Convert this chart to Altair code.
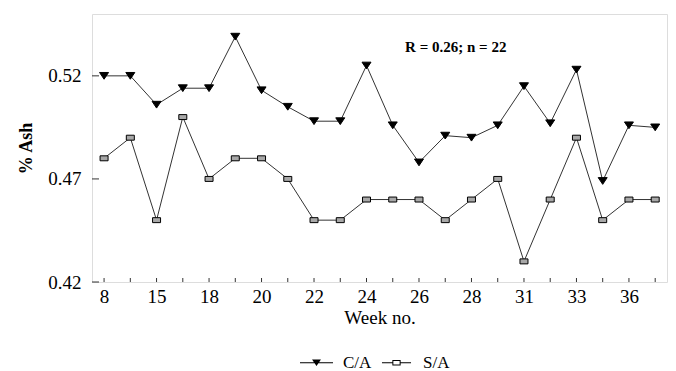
import altair as alt
import pandas as pd

# ---- data ----
x_labels = ["8", "15", "18", "20", "22", "24", "26", "28", "31", "33", "36"]  # shown on every other sample
ca = [0.520, 0.520, 0.506, 0.514, 0.514, 0.539, 0.513, 0.505, 0.498, 0.498, 0.525,
      0.496, 0.478, 0.491, 0.490, 0.496, 0.515, 0.497, 0.523, 0.469, 0.496, 0.495]
sa = [0.48, 0.49, 0.45, 0.50, 0.47, 0.48, 0.48, 0.47, 0.45, 0.45, 0.46,
      0.46, 0.46, 0.45, 0.46, 0.47, 0.43, 0.46, 0.49, 0.45, 0.46, 0.46]
series = ["C/A", "S/A"]
y_ticks = [0.42, 0.47, 0.52]
note = "R = 0.26; n = 22"
note_pos = (13.4, 0.534)

n = len(ca)
rows = []
for i in range(n):
    rows.append({"idx": i, "value": ca[i], "series": "C/A"})
for i in range(n):
    rows.append({"idx": i, "value": sa[i], "series": "S/A"})
df = pd.DataFrame(rows)
xtick_df = pd.DataFrame({"idx": list(range(n))})
ytick_df = pd.DataFrame({"v": y_ticks})
note_df = pd.DataFrame({"x": [note_pos[0]], "y": [note_pos[1]], "t": [note]})

W, H = 575, 268
FONT = "Liberation Serif"
xs = alt.Scale(domain=[-0.46, 21.45], nice=False, zero=False)
ys = alt.Scale(domain=[0.42, 0.55], nice=False, zero=False)

label_arr = "[" + ",".join("'%s'" % s for s in x_labels) + "]"

x_enc = alt.X("idx:Q", scale=xs, title="Week no.",
              axis=alt.Axis(values=list(range(0, n, 2)), ticks=False, domain=False, grid=False,
                            labelExpr=label_arr + "[round(datum.value/2)]",
                            labelFont=FONT, labelFontSize=19, labelColor="black", labelPadding=5,
                            titleFont=FONT, titleFontSize=19, titleFontWeight="normal",
                            titleColor="black", titlePadding=2))
y_enc = alt.Y("value:Q", scale=ys, title="% Ash",
              axis=alt.Axis(values=y_ticks, format=".2f", ticks=False, domain=False, grid=False,
                            labelFont=FONT, labelFontSize=19, labelColor="black", labelPadding=11,
                            titleFont=FONT, titleFontSize=18, titleFontWeight="bold",
                            titleColor="black", titlePadding=12))

base = alt.Chart(df)

lines = base.mark_line(color="#333", strokeWidth=1).encode(
    x=x_enc, y=y_enc, detail="series:N")

pt_shapes = ["M-1,-0.75L1,-0.75L0,0.75Z", "M-1,-0.62L1,-0.62L1,0.62L-1,0.62Z"]
points = base.mark_point(filled=False, stroke="black", strokeWidth=1, opacity=1).encode(
    x="idx:Q", y="value:Q",
    shape=alt.Shape("series:N", scale=alt.Scale(domain=series, range=pt_shapes), legend=None),
    fill=alt.Fill("series:N", scale=alt.Scale(domain=series, range=["black", "#a8a8a8"]), legend=None),
    size=alt.Size("series:N", scale=alt.Scale(domain=series, range=[81, 64]), legend=None),
)

# legend glyphs: line + marker drawn as filled paths (unit square scaled by symbol size)
lg_ca = "M-1,-0.035L1,-0.035L1,0.035L-1,0.035Z M-0.27,-0.2L0.27,-0.2L0,0.2Z"
lg_sa = ("M-0.88,-0.035L-0.24,-0.035L-0.24,0.035L-0.88,0.035Z "
         "M0.24,-0.035L0.88,-0.035L0.88,0.035L0.24,0.035Z "
         "M-0.25,-0.16L0.25,-0.16L0.25,0.16L-0.25,0.16Z "
         "M-0.19,-0.1L-0.19,0.1L0.19,0.1L0.19,-0.1Z")
legend_layer = base.mark_point(filled=True, strokeWidth=0, size=0, opacity=1).encode(
    x="idx:Q", y="value:Q",
    shape=alt.Shape("series:N", scale=alt.Scale(domain=series, range=[lg_ca, lg_sa]), title=None,
                    legend=alt.Legend(orient="none", legendX=208, legendY=332, direction="horizontal",
                                      symbolSize=1089, symbolStrokeWidth=0,
                                      symbolOpacity=1,
                                      labelFont=FONT, labelFontSize=17,
                                      labelColor="black", labelOffset=10, columnPadding=8,
                                      padding=0, title=None)),
    color=alt.Color("series:N", scale=alt.Scale(domain=series, range=["black", "#111"]), title=None),
)

xticks = alt.Chart(xtick_df).mark_rule(color="#333", strokeWidth=1).encode(
    x=alt.X("idx:Q", scale=xs), y=alt.value(H), y2=alt.value(H - 4))
yticks = alt.Chart(ytick_df).mark_rule(color="#333", strokeWidth=1).encode(
    y=alt.Y("v:Q", scale=ys), x=alt.value(0), x2=alt.value(7))

text = alt.Chart(note_df).mark_text(font=FONT, fontSize=15, fontWeight="bold", color="black").encode(
    x=alt.X("x:Q", scale=xs), y=alt.Y("y:Q", scale=ys), text="t:N")

chart = alt.layer(lines, xticks, yticks, points, legend_layer, text).resolve_scale(
    shape="independent", fill="independent"
).properties(
    width=W, height=H,
    autosize=alt.AutoSizeParams(type="none"),
    padding={"left": 84, "top": 6, "right": 1, "bottom": 89},
).configure_view(stroke="#333", strokeWidth=1.2).configure(background="white")

chart.save("out.html", embed_options={"renderer": "svg", "actions": False})
